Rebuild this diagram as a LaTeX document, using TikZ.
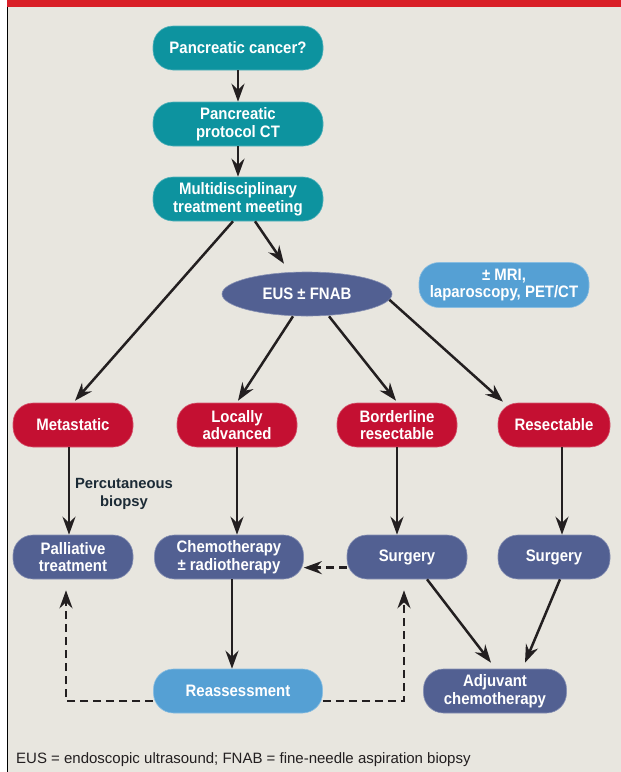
\documentclass[tikz,border=0pt]{standalone}
\usepackage{fontspec}
\setmainfont{Liberation Sans}
\newfontfamily\nodefont{Liberation Sans}[FakeStretch=0.9]
\usetikzlibrary{shapes.geometric,arrows.meta}
\definecolor{bgbeige}{HTML}{E8E6DF}
\definecolor{topred}{HTML}{D91F27}
\definecolor{tealbox}{HTML}{0D939F}
\definecolor{navybox}{HTML}{526092}
\definecolor{redbox}{HTML}{C41032}
\definecolor{lightbox}{HTML}{55A0D4}
\definecolor{linecol}{HTML}{231F20}
\definecolor{labeltext}{HTML}{1C2B36}
\begin{document}
\begin{tikzpicture}[x=1pt,y=-1pt,
  pill/.style={rectangle, rounded corners=20pt, minimum height=44pt, inner sep=0pt,
    align=center, text=white, font=\nodefont\bfseries\fontsize{16.6}{17.8}\selectfont},
  tealpill/.style={pill, fill=tealbox, draw=tealbox!70!white, line width=0.6pt},
  navypill/.style={pill, fill=navybox, draw=navybox!70!white, line width=0.6pt},
  redpill/.style={pill, fill=redbox, draw=redbox!70!white, line width=0.6pt},
  lightpill/.style={pill, fill=lightbox, draw=lightbox!70!white, line width=0.6pt},
  arr/.style={draw=linecol, line width=2.5pt, -{Stealth[length=18pt,width=13pt,inset=6pt]}},
  dashedline/.style={dash pattern=on 8pt off 5pt}
]
\fill[bgbeige] (0,0) rectangle (621,772);
\useasboundingbox (0,0) rectangle (621,772);
\fill[white] (0,0) rectangle (7,772);
\fill[topred] (7,0) rectangle (621,7);
\draw[black, line width=1pt] (7.5,7) -- (7.5,772);

% top column
\node[tealpill, minimum width=170pt] (pc) at (238,48) {Pancreatic cancer?};
\node[tealpill, minimum width=170pt] (ct) at (238,124) {Pancreatic\\protocol CT};
\node[tealpill, minimum width=170pt] (mtm) at (238,199) {Multidisciplinary\\treatment meeting};

\node[ellipse, fill=navybox, draw=navybox!70!white, line width=0.6pt, minimum width=170pt, minimum height=44pt, inner sep=0pt,
  text=white, font=\nodefont\bfseries\fontsize{16.6}{17.8}\selectfont] (eus) at (307,294) {EUS ± FNAB};
\node[lightpill, minimum width=170pt, minimum height=45pt] (mri) at (504,285) {± MRI,\\laparoscopy, PET/CT};

% red row
\node[redpill, minimum width=120pt] (met) at (73,425) {Metastatic};
\node[redpill, minimum width=120pt] (la) at (237,425) {Locally\\advanced};
\node[redpill, minimum width=120pt] (br) at (397,425) {Borderline\\resectable};
\node[redpill, minimum width=112pt] (res) at (554,425) {Resectable};

% treatment row
\node[navypill, minimum width=120pt] (pal) at (73,557) {Palliative\\treatment};
\node[navypill, minimum width=149pt] (chemo) at (229,557) {Chemotherapy\\± radiotherapy};
\node[navypill, minimum width=120pt] (surg1) at (407,557) {Surgery};
\node[navypill, minimum width=112pt] (surg2) at (554,557) {Surgery};

% bottom row
\node[lightpill, minimum width=169pt] (reas) at (238,691) {Reassessment};
\node[navypill, minimum width=143pt] (adj) at (495,691) {Adjuvant\\chemotherapy};

\node[align=center, text=labeltext, font=\bfseries\fontsize{14.8}{18.5}\selectfont] (lbl) at (124,494) {Percutaneous\\biopsy};

\node[anchor=base west, inner sep=0pt, text=linecol, font=\fontsize{15}{18}\selectfont] (foot) at (16,763)
  {EUS = endoscopic ultrasound; FNAB = fine-needle aspiration biopsy};

% connectors
\draw[arr] (pc) -- (ct);
\draw[arr] (ct) -- (mtm);
\draw[arr] ([xshift=17pt]mtm.south) -- ([xshift=-23pt,yshift=8pt]eus.north);
\draw[arr] ([xshift=-5pt]mtm.south) -- ([xshift=2pt,yshift=2pt]met.north);
\draw[arr] ([xshift=-14pt]eus.south) -- ([xshift=1pt,yshift=2pt]la.north);
\draw[arr] ([xshift=22pt]eus.south) -- ([xshift=-1pt,yshift=2pt]br.north);
\draw[arr] (eus.-4) -- ([xshift=-51pt,yshift=1pt]res.north);

\draw[arr] ([xshift=-4pt]met.south) -- ([xshift=-4pt]pal.north);
\draw[arr] (la.south) -- (la.south |- chemo.north);
\draw[arr] ([xshift=3pt]chemo.south) -- ([xshift=3pt]chemo.south |- reas.north);
\draw[arr] (br.south) -- (br.south |- surg1.north);
\draw[arr] ([xshift=8pt]res.south) -- ([xshift=8pt]res.south |- surg2.north);

\draw[arr, dashedline] (surg1.190) -- (surg1.190 -| chemo.east);
\draw[arr, dashedline] ([yshift=-10pt]reas.west) -| ([xshift=-7pt,yshift=-11pt]pal.south);
\draw[arr, dashedline] ([yshift=-10pt]reas.east) -| ([xshift=-3pt,yshift=-11pt]surg1.south);

\draw[arr] ([xshift=20pt]surg1.south) -- ([xshift=-4pt,yshift=6pt]adj.north);
\draw[arr] ([xshift=6pt]surg2.south) -- ([xshift=30pt,yshift=6pt]adj.north);
\end{tikzpicture}
\end{document}
